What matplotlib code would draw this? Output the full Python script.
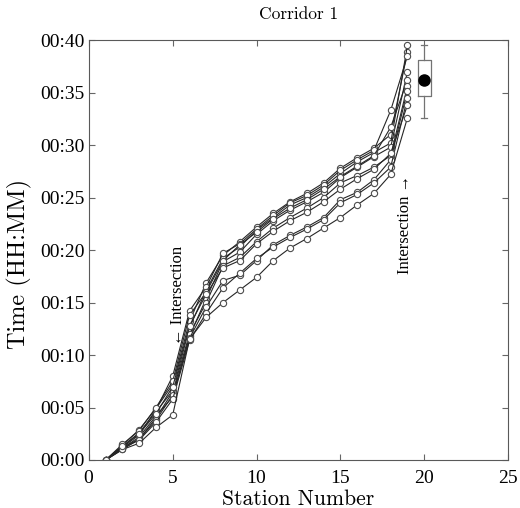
import numpy as np
import matplotlib
matplotlib.use("Agg")
import matplotlib.pyplot as plt
from matplotlib.ticker import FuncFormatter

# station numbers and travel times (minutes) for each trip
stations = np.arange(1, 20)
trip1 = [0, 1.4, 2.9, 4.9, 7.2, 13.2, 16.9, 19.5, 20.8, 22.2, 23.5, 24.6, 25.4, 26.4, 27.8, 28.8, 29.7, 31.0, 38.9]
trip2 = [0, 1.3, 2.6, 4.6, 6.6, 12.6, 16.2, 19.2, 20.3, 21.9, 23.1, 24.3, 25.0, 26.0, 27.3, 28.4, 29.3, 30.2, 39.5]
trip3 = [0, 1.2, 2.4, 4.8, 8.0, 14.2, 16.5, 19.7, 20.6, 22.0, 23.3, 24.5, 25.2, 26.2, 27.6, 28.6, 29.5, 33.3, 38.5]
trip4 = [0, 1.1, 2.2, 4.2, 6.0, 11.8, 15.4, 18.9, 19.8, 21.5, 22.8, 23.8, 24.6, 25.5, 26.9, 27.9, 28.9, 29.8, 37.0]
trip5 = [0, 1.5, 2.8, 5.0, 7.5, 13.8, 16.0, 19.0, 20.5, 21.7, 23.0, 24.0, 24.8, 25.8, 27.0, 28.0, 29.0, 31.7, 36.2]
trip6 = [0, 1.0, 2.0, 4.0, 6.5, 12.0, 15.0, 18.5, 19.3, 20.8, 22.1, 23.1, 24.0, 25.0, 26.4, 27.1, 27.9, 29.0, 35.6]
trip7 = [0, 1.2, 2.0, 3.8, 6.2, 11.6, 14.6, 17.1, 17.6, 19.0, 20.5, 21.4, 22.2, 23.1, 24.8, 25.5, 26.7, 28.6, 35.2]
trip8 = [0, 1.1, 1.9, 3.6, 5.8, 11.4, 14.0, 16.4, 17.8, 19.2, 20.3, 21.2, 22.0, 22.9, 24.5, 25.3, 26.4, 27.9, 34.5]
trip9 = [0, 1.0, 1.6, 3.1, 4.3, 11.5, 13.6, 15.0, 16.2, 17.4, 19.0, 20.2, 21.1, 22.1, 23.1, 24.3, 25.4, 27.2, 32.6]
trip10 = [0, 1.3, 2.5, 4.4, 7.0, 12.8, 15.8, 18.3, 19.0, 20.6, 21.8, 22.8, 23.6, 24.6, 25.8, 26.8, 27.7, 29.2, 33.8]
trips = [trip1, trip2, trip3, trip4, trip5, trip6, trip7, trip8, trip9, trip10]

box_pos = 20
xticks = [0, 5, 10, 15, 20, 25]
yticks = [0, 5, 10, 15, 20, 25, 30, 35, 40]

cm = {"family": "cmr10"}
times = {"family": "Liberation Serif"}
plt.rcParams["axes.formatter.use_mathtext"] = True

fig = plt.figure(figsize=(5.2, 5.08), dpi=100)
ax = fig.add_axes([0.171, 0.0945, 0.806, 0.8265])

for t in trips:
    ax.plot(stations, t, color="0.15", lw=0.8, marker="o", ms=4.5,
            mfc="white", mec="0.3", mew=0.8)

# box plot of the total travel times
final = [t[-1] for t in trips]
ax.boxplot([final], positions=[box_pos], widths=0.75, whis=(0, 100),
           showfliers=False, manage_ticks=False,
           boxprops=dict(color="0.45", lw=0.9),
           whiskerprops=dict(color="0.45", lw=0.9),
           capprops=dict(color="0.45", lw=0.9),
           medianprops=dict(visible=False))
ax.plot([box_pos], [np.mean(final)], "o", color="black", ms=8)

ax.text(5.3, 15.7, "\u2190 Intersection", rotation=90, ha="center", va="center",
        fontsize=12, **times)
ax.text(18.85, 22.4, "Intersection \u2192", rotation=90, ha="center", va="center",
        fontsize=12, **times)

ax.set_xlim(0, 25)
ax.set_ylim(0, 40)
ax.set_xticks(xticks)
ax.set_yticks(yticks)
ax.yaxis.set_major_formatter(FuncFormatter(lambda v, p: "00:%02d" % int(round(v))))
ax.tick_params(direction="in", top=True, right=True, length=4, labelsize=14,
               color="0.4", pad=3)
ax.tick_params(axis="x", pad=7)
for lab in ax.get_xticklabels() + ax.get_yticklabels():
    lab.set_fontfamily("Liberation Serif")
for s in ax.spines.values():
    s.set_color("0.35")

ax.set_xlabel("Station Number", fontsize=15.5, labelpad=2, **cm)
ax.set_ylabel("Time (HH:MM)", fontsize=17.5, **cm)
ax.yaxis.set_label_coords(-0.135, 0.467)
ax.set_title("Corridor 1", fontsize=12.5, pad=15, **cm)

fig.savefig("out.png", dpi=100)
